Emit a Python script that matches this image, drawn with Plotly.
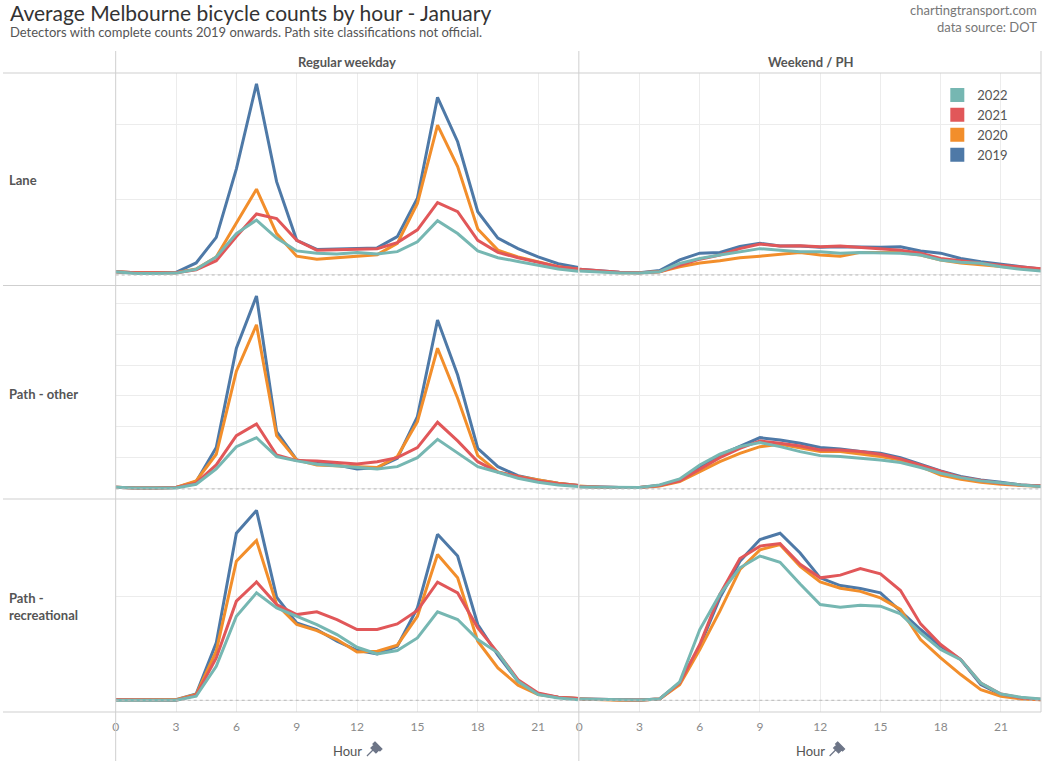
import plotly.graph_objects as go

W, H = 1045, 761

hours = list(range(24))
years = ["2019", "2020", "2021", "2022"]
legend_order = ["2022", "2021", "2020", "2019"]
colors = {"2022": "#76b7b2", "2021": "#e15759", "2020": "#f28e2b", "2019": "#4e79a7"}
row_labels = ["Lane", "Path - other", "Path -<br>recreational"]
col_labels = ["Regular weekday", "Weekend / PH"]
x_ticks = [0, 3, 6, 9, 12, 15, 18, 21]

# ---- Lane ----
lane_wd_2019 = [4.4, 3, 3, 3.5, 16, 50, 141, 254, 124, 46, 34, 35, 36, 36, 51, 102, 236, 177, 84, 49, 35, 24, 15, 10]
lane_wd_2020 = [4.4, 3, 3, 3, 8, 24, 69, 114, 55, 25, 21, 23, 25, 27, 42, 95, 199, 144, 61, 33, 24, 18, 11, 7.5]
lane_wd_2021 = [4.4, 3, 3, 3, 7, 19, 51, 81, 75, 46, 33, 34, 35, 35, 43, 60, 96, 84, 46, 30, 23, 17, 11, 8]
lane_wd_2022 = [4.4, 2, 2, 2.5, 7.5, 24, 55, 73, 49, 32, 29, 28, 30, 28, 31, 44, 72, 55, 32, 23, 18, 13, 8, 5]

lane_we_2019 = [7.5, 5, 3.5, 3, 6, 20, 29, 30, 38, 42, 38.5, 38.5, 36.7, 37.6, 36.7, 36.7, 37.6, 32, 29, 22, 17.7, 14, 11, 8]
lane_we_2020 = [6.6, 4.4, 3, 3, 4.4, 11, 16, 19, 23, 25, 28, 30, 26.5, 25, 30, 30, 30, 26.5, 20, 16, 14, 11, 9, 6.6]
lane_we_2021 = [7.5, 5.3, 3.5, 3, 4.4, 13, 21, 26.5, 35, 41, 38.5, 39, 37.6, 38.5, 36.7, 35, 33, 29, 22, 19, 15.5, 13, 11, 8.4]
lane_we_2022 = [5.3, 3.5, 2.7, 2.7, 4.4, 15.5, 22, 26.5, 31, 35, 33, 31, 31, 29, 30, 29, 29, 26.5, 20, 17, 15.5, 11, 7.5, 5.3]

# ---- Path - other ----
other_wd_2019 = [1.1, 0.6, 0.6, 0.9, 4.7, 26.7, 90.8, 124.5, 37, 18.7, 16.6, 15.5, 12.9, 13.8, 19.8, 46.7, 109, 73.5, 26.2, 14.4, 8.6, 5.8, 3.7, 2.2]
other_wd_2020 = [1.1, 0.6, 0.6, 0.9, 5.2, 22.4, 76, 106, 34.4, 18.7, 15.5, 14.8, 14.4, 13.8, 20.9, 43.4, 90.8, 58.5, 21.5, 11, 8, 5.8, 3.7, 2.2]
other_wd_2021 = [1.1, 0.6, 0.6, 0.9, 3.7, 15.5, 34.4, 41.9, 21.9, 18.3, 18.1, 17.2, 16.1, 17.6, 20.2, 26.7, 43, 31, 17.6, 10.8, 8, 5.2, 3.4, 2.2]
other_wd_2022 = [1.1, 0.6, 0.6, 0.6, 3, 12.9, 27.3, 33.1, 20.9, 18.1, 15.9, 14.8, 13.8, 12.9, 14.4, 20.2, 32, 23, 14.4, 10.8, 6.9, 4.3, 2.6, 1.5]

other_we_2019 = [1.5, 1.1, 0.9, 0.9, 2.2, 5.8, 14.4, 21.9, 27.3, 33.1, 31.6, 29.5, 26.7, 25.8, 24.1, 23, 20.2, 15.9, 11.6, 8, 5.8, 4.3, 2.6, 1.9]
other_we_2020 = [1.9, 1.1, 0.9, 0.9, 1.9, 4.7, 11.2, 17.6, 23, 27.3, 28.8, 26.2, 24.1, 24.1, 22.4, 20.9, 18.7, 14.4, 9, 6.2, 4.3, 3, 2.2, 1.7]
other_we_2021 = [1.5, 1.1, 0.9, 0.9, 2.2, 5.2, 12.9, 20.2, 26.2, 31, 29.5, 27.7, 25.2, 25.2, 24.1, 22.4, 19.4, 15.5, 11.2, 7.5, 5.4, 3.7, 2.6, 1.9]
other_we_2022 = [1.3, 1.1, 0.9, 0.9, 2.6, 6.5, 15.5, 22.4, 27.3, 29.9, 27.3, 24.1, 21.5, 20.9, 19.8, 18.7, 17, 13.8, 10.1, 7.3, 5.2, 3.7, 2.6, 1.5]

# ---- Path - recreational ----
rec_wd_2019 = [0.6, 0.6, 0.6, 0.6, 6.1, 55.3, 161, 183, 99.4, 74.6, 68.2, 56.9, 48.2, 44.7, 52.1, 89.1, 160, 139, 73, 43.4, 18.3, 6.1, 2.9, 1.6]
rec_wd_2020 = [0.6, 0.6, 0.6, 0.6, 5.5, 47.3, 134, 154, 92.3, 73, 67.2, 58.5, 46.6, 47.3, 53.1, 81, 140.5, 118, 56.9, 31.2, 14.5, 5.5, 2.9, 1.6]
rec_wd_2021 = [0.6, 0.3, 0.3, 0, 4.8, 40.8, 95.5, 114, 92.3, 82.6, 85.2, 77.8, 68.2, 68.2, 73.6, 86.5, 113.8, 103.5, 69.8, 45.7, 19.9, 7.1, 2.9, 1.6]
rec_wd_2022 = [0, 0, 0, 0, 3.9, 32.8, 81, 103.5, 89, 81, 73, 63.3, 51.1, 44.7, 47.9, 60.1, 85.2, 77.8, 58.5, 45.7, 18.3, 5.5, 2.3, 0.6]

rec_we_2019 = [1.3, 1, 0.6, 0.3, 1.3, 16.7, 52.1, 98.7, 134, 155, 161, 142, 118, 110.6, 107.7, 103.5, 85.9, 68.2, 52.1, 39.2, 15.1, 5.5, 2.3, 0.6]
rec_we_2020 = [1.3, 0.6, 0, 0, 1.3, 15.1, 48.9, 85.9, 126, 145, 150, 129, 114, 108, 105, 98.7, 87.5, 58.5, 40.8, 24.8, 10.3, 3.9, 1.3, 0.6]
rec_we_2021 = [1.3, 1, 0.6, 0.3, 1.3, 16.7, 53.7, 102, 136.7, 148.6, 151, 131, 118, 120.6, 127, 121.9, 105.8, 73.6, 53.7, 39.2, 16.7, 6.1, 2.3, 1]
rec_we_2022 = [1.3, 1, 0.6, 0.3, 1.3, 17.7, 68.2, 102, 127.7, 139, 133, 112, 92.3, 89.7, 91.6, 90.7, 83.3, 65, 48.9, 39.2, 16.7, 6.1, 2.9, 1.3]

# per-row y ranges and gridline steps (axis labels hidden in the original)
row_ranges = [[-13.3, 268.3], [-6.5, 131], [-11.3, 194]]
row_dticks = [100, 20, 100]

panels = [
    [
        {"2019": lane_wd_2019, "2020": lane_wd_2020, "2021": lane_wd_2021, "2022": lane_wd_2022},
        {"2019": lane_we_2019, "2020": lane_we_2020, "2021": lane_we_2021, "2022": lane_we_2022},
    ],
    [
        {"2019": other_wd_2019, "2020": other_wd_2020, "2021": other_wd_2021, "2022": other_wd_2022},
        {"2019": other_we_2019, "2020": other_we_2020, "2021": other_we_2021, "2022": other_we_2022},
    ],
    [
        {"2019": rec_wd_2019, "2020": rec_wd_2020, "2021": rec_wd_2021, "2022": rec_wd_2022},
        {"2019": rec_we_2019, "2020": rec_we_2020, "2021": rec_we_2021, "2022": rec_we_2022},
    ],
]


def px(x):
    return x / W


def py(y):
    return 1 - y / H


col_px = [(113, 577), (578, 1041)]
row_px = [(73, 285), (286, 499), (499, 712)]

FONT = "Lato"
fig = go.Figure()
layout = {}
shapes = []

for r in range(3):
    for c in range(2):
        i = r * 2 + c + 1
        xa = "xaxis" if i == 1 else f"xaxis{i}"
        ya = "yaxis" if i == 1 else f"yaxis{i}"
        xr = "x" if i == 1 else f"x{i}"
        yr = "y" if i == 1 else f"y{i}"
        layout[xa] = dict(
            domain=[px(col_px[c][0]), px(col_px[c][1])],
            anchor=yr,
            range=[0, 23],
            tickvals=x_ticks,
            showticklabels=(r == 2),
            ticks="",
            ticklabelstandoff=6,
            tickfont=dict(family=FONT, size=12, color="#8a8a8a"),
            showgrid=True,
            gridcolor="#ececec",
            gridwidth=1,
            zeroline=False,
            showline=False,
            fixedrange=True,
        )
        layout[ya] = dict(
            domain=[py(row_px[r][1]), py(row_px[r][0])],
            anchor=xr,
            range=row_ranges[r],
            dtick=row_dticks[r],
            tick0=0,
            showticklabels=False,
            ticks="",
            showgrid=True,
            gridcolor="#ececec",
            gridwidth=1,
            zeroline=False,
            showline=False,
            fixedrange=True,
        )
        data = panels[r][c]
        for yr_name in years:
            fig.add_trace(go.Scatter(
                x=hours, y=data[yr_name], mode="lines",
                line=dict(color=colors[yr_name], width=3),
                xaxis=xr, yaxis=yr, showlegend=False, hoverinfo="skip",
            ))
        # dotted zero line
        shapes.append(dict(type="line", xref=f"{xr} domain", yref=yr,
                           x0=0, x1=1, y0=0, y1=0,
                           line=dict(color="#b8b8b8", width=1, dash="dot")))

# legend entries as squares
for yr_name in legend_order:
    fig.add_trace(go.Scatter(
        x=[None], y=[None], mode="markers",
        marker=dict(symbol="square", size=14, color=colors[yr_name]),
        name=yr_name, showlegend=True,
    ))

# border lines
border = "#cfcfcf"
for yline in [73, 285.5, 499, 712]:
    shapes.append(dict(type="line", xref="paper", yref="paper",
                       x0=px(0), x1=px(1041), y0=py(yline), y1=py(yline),
                       line=dict(color=border, width=1)))
for xline, ybot in [(113, 761), (577.5, 761), (1041, 712)]:
    shapes.append(dict(type="line", xref="paper", yref="paper",
                       x0=px(xline), x1=px(xline), y0=py(51), y1=py(ybot),
                       line=dict(color=border, width=1)))

# pin icons next to "Hour"
def pin_path(ox, oy):
    pts_body = [(8, -1), (13, 4), (10, 7), (5, 2)]
    pts_head = [(9, -4), (16, 3), (14, 5), (7, -2)]
    def poly(pts):
        return "M " + " L ".join(f"{px(ox + a)},{py(oy + b)}" for a, b in pts) + " Z"
    needle = f"M {px(ox + 7)},{py(oy + 4)} L {px(ox + 1)},{py(oy + 10)}"
    return poly(pts_body) + " " + poly(pts_head) + " " + needle

for ox in [364, 828]:
    shapes.append(dict(type="path", xref="paper", yref="paper",
                       path=pin_path(ox, 746),
                       fillcolor="#6d7587", line=dict(color="#6d7587", width=1.2)))

annotations = []
annotations.append(dict(text="Average Melbourne bicycle counts by hour - January",
                        x=px(5), y=py(12), xref="paper", yref="paper",
                        xanchor="left", yanchor="middle", showarrow=False,
                        font=dict(family=FONT, size=21, color="#333333")))
annotations.append(dict(text="Detectors with complete counts 2019 onwards. Path site classifications not official.",
                        x=px(5), y=py(32), xref="paper", yref="paper",
                        xanchor="left", yanchor="middle", showarrow=False,
                        font=dict(family=FONT, size=13, color="#555555")))
annotations.append(dict(text="chartingtransport.com",
                        x=px(1039), y=py(10), xref="paper", yref="paper",
                        xanchor="right", yanchor="middle", showarrow=False,
                        font=dict(family=FONT, size=13, color="#777777")))
annotations.append(dict(text="data source: DOT",
                        x=px(1039), y=py(27), xref="paper", yref="paper",
                        xanchor="right", yanchor="middle", showarrow=False,
                        font=dict(family=FONT, size=13, color="#777777")))
for c, lab in enumerate(col_labels):
    cx = (col_px[c][0] + col_px[c][1]) / 2
    annotations.append(dict(text=f"<b>{lab}</b>", x=px(cx), y=py(62),
                            xref="paper", yref="paper", xanchor="center", yanchor="middle",
                            showarrow=False, font=dict(family=FONT, size=13, color="#555555")))
    annotations.append(dict(text="Hour", x=px(cx), y=py(751),
                            xref="paper", yref="paper", xanchor="center", yanchor="middle",
                            showarrow=False, font=dict(family=FONT, size=13, color="#555555")))
for r, lab in enumerate(row_labels):
    cy = (row_px[r][0] + row_px[r][1]) / 2 + 1
    annotations.append(dict(text=f"<b>{lab}</b>", x=px(4), y=py(cy),
                            xref="paper", yref="paper", xanchor="left", yanchor="middle",
                            align="left", showarrow=False,
                            font=dict(family=FONT, size=13, color="#555555")))

fig.update_layout(
    width=W, height=H,
    margin=dict(l=0, r=0, t=0, b=0),
    paper_bgcolor="white", plot_bgcolor="white",
    showlegend=True,
    legend=dict(x=px(937), y=py(80), xanchor="left", yanchor="top",
                font=dict(family=FONT, size=13, color="#555555"),
                bgcolor="rgba(0,0,0,0)", tracegroupgap=0, itemclick=False),
    shapes=shapes, annotations=annotations,
    **layout,
)

fig.write_html("out.html")
